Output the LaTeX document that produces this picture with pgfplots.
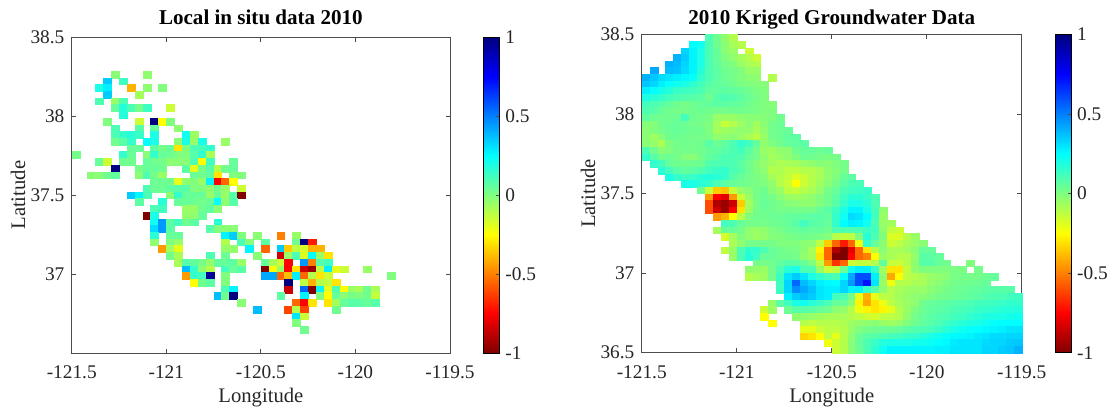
\documentclass[border=0pt]{standalone}
\usepackage{pgfplots}
\pgfplotsset{compat=1.18}
\usepackage{fontspec}
\setmainfont{Liberation Serif}
\pgfplotsset{
  colormap={rjet}{rgb(0cm)=(.5,0,0); rgb(1cm)=(1,0,0); rgb(3cm)=(1,1,0); rgb(5cm)=(0,1,1); rgb(7cm)=(0,0,1); rgb(8cm)=(0,0,.5)},
  gridmap/.style={
    scale only axis, axis on top, clip=true,
    xmin=-121.5, xmax=-119.5, ymin=36.5, ymax=38.5,
    xtick={-121.5,-121,-120.5,-120,-119.5},
    xticklabels={-121.5,-121,-120.5,-120,-119.5},
    ytick={37,37.5,38,38.5},
    yticklabels={37,37.5,38,38.5},
    tick align=inside, tick pos=both, major tick length=3.2pt,
    tick style={color=black!70,line width=.6pt},
    axis line style={color=black!70,line width=.7pt},
    tick label style={font=\fontsize{14.5}{16}\selectfont, text=black!85},
    x tick label style={yshift=-6pt},
    y tick label style={xshift=-2pt},
    label style={font=\fontsize{15.5}{18}\selectfont, text=black!85},
    xlabel={Longitude}, ylabel={Latitude},
    xlabel style={yshift=0pt},
    ylabel style={yshift=-3pt},
    title style={font=\fontsize{15.8}{18}\selectfont\bfseries},
    point meta min=-1, point meta max=1,
    colorbar,
    colorbar style={
      at={(parent axis.north east)}, anchor=north west, xshift=16.5pt,
      width=12pt, height=\pgfkeysvalueof{/pgfplots/parent axis height},
      ytick={-1,-0.5,0,0.5,1}, yticklabels={-1,-0.5,0,0.5,1},
      yticklabel pos=right, ytick pos=right, tick align=inside, major tick length=2.5pt,
      y tick label style={xshift=1pt},
      xlabel={}, ylabel={}, title={}
    }
  },
  cell/.style={
    scatter, only marks, mark=square*, mark size=2.97pt, point meta=explicit,
    scatter/use mapped color={draw=mapped color,fill=mapped color},
    mark options={yscale=\yscl, line width=.05pt},
    forget plot
  }
}
\newcommand{\R}[3]{\addplot[cell] table[row sep=\\, header=false,
  x expr={-121.5+(\coordindex+#2+0.5)/24}, y expr={38.5-(#1+0.5)/\ystep}, meta index=0] {#3};}
\begin{document}
\begin{tikzpicture}
\path[use as bounding box] (0,0) rectangle (831.75pt,305.25pt);
\def\ystep{23.5}\def\yscl{.85}
\begin{axis}[gridmap, at={(53.8pt,40.5pt)}, anchor=south west, width=283.7pt, height=236.8pt,
  title={Local in situ data 2010}, title style={yshift=0pt}]
\R{5}{5}{-.02\\}\R{5}{9}{-.03\\}
\R{6}{4}{.35\\}\R{6}{6}{.13\\}
\R{7}{3}{.2\\.28\\}\R{7}{7}{-.4\\}\R{7}{9}{-.03\\}\R{7}{11}{0\\}
\R{8}{4}{.35\\}\R{8}{8}{-.07\\}
\R{9}{3}{.1\\}\R{9}{5}{-.05\\.1\\}
\R{10}{5}{.05\\.18\\.1\\.02\\.13\\}\R{10}{12}{-.15\\}
\R{11}{6}{.18\\}
\R{12}{4}{0\\}\R{12}{8}{-.15\\}\R{12}{10}{1\\-.25\\0\\}
\R{13}{5}{.1\\}\R{13}{8}{.08\\}\R{13}{10}{.06\\}\R{13}{13}{-.03\\}
\R{14}{5}{.1\\.15\\.17\\.14\\}\R{14}{10}{.2\\}\R{14}{14}{.22\\-.06\\}
\R{15}{5}{.03\\.07\\.15\\}\R{15}{9}{.25\\.2\\}\R{15}{13}{-.02\\.2\\-.05\\.2\\}\R{15}{19}{-.05\\}
\R{16}{7}{.05\\.05\\}\R{16}{10}{.07\\.02\\.05\\-.3\\0\\.1\\.12\\.15\\}
\R{17}{0}{.02\\}\R{17}{6}{.15\\.05\\}\R{17}{9}{-.02\\.15\\.05\\.04\\0\\0\\.08\\.15\\-.08\\}
\R{18}{3}{.05\\-.15\\}\R{18}{6}{.03\\.03\\}\R{18}{9}{.05\\.03\\.02\\-.02\\-.02\\-.02\\.1\\-.25\\.12\\}\R{18}{20}{.05\\}
\R{19}{5}{1\\}\R{19}{8}{.02\\.05\\.05\\.03\\}\R{19}{14}{.07\\-.2\\.02\\.08\\-.1\\.03\\.05\\}
\R{20}{2}{-.02\\-.02\\.03\\.06\\}\R{20}{8}{-.02\\.1\\.02\\-.05\\}\R{20}{15}{.05\\.03\\.06\\-.3\\}\R{20}{20}{0\\0\\}
\R{21}{10}{.04\\.04\\.03\\-.2\\-.03\\0\\-.05\\.27\\-.75\\-.55\\-.25\\}
\R{22}{9}{.1\\.04\\.04\\.06\\.08\\.08\\0\\0\\-.03\\.03\\-.05\\}\R{22}{21}{-.15\\}
\R{23}{7}{.35\\.27\\.1\\}\R{23}{12}{-.02\\.15\\.05\\.05\\.05\\-.05\\.05\\-.05\\.08\\-1\\}
\R{24}{8}{.07\\}\R{24}{11}{.17\\}\R{24}{13}{.05\\.05\\.04\\.02\\.05\\.25\\-.03\\.08\\}
\R{25}{10}{.1\\.12\\}\R{25}{14}{-.05\\-.05\\.03\\.06\\-.02\\}
\R{26}{9}{-1\\.2\\}\R{26}{14}{-.04\\-.03\\.05\\}
\R{27}{10}{.22\\.45\\.07\\.12\\.03\\.07\\}\R{27}{18}{.17\\}
\R{28}{10}{.32\\.45\\.07\\}\R{28}{17}{.08\\0\\-.02\\-.02\\}
\R{29}{10}{.17\\}\R{29}{12}{.05\\.05\\}\R{29}{19}{.27\\.35\\0\\}\R{29}{23}{-.02\\}\R{29}{26}{-.5\\}\R{29}{28}{-.05\\}
\R{30}{10}{-.03\\}\R{30}{12}{0\\-.05\\}\R{30}{19}{-.1\\}\R{30}{21}{.1\\-.01\\}\R{30}{24}{.07\\}\R{30}{28}{.03\\1\\-.7\\}
\R{31}{11}{-.45\\-.07\\-.2\\}\R{31}{19}{-.04\\-.04\\}\R{31}{22}{.27\\}\R{31}{24}{-.55\\}\R{31}{26}{.35\\-.35\\-.12\\-.17\\-.4\\-.4\\}
\R{32}{12}{.02\\-.08\\}\R{32}{17}{.1\\}\R{32}{19}{.04\\}\R{32}{23}{-.02\\}\R{32}{26}{-.85\\-.05\\.1\\-.18\\.25\\-.05\\-.3\\}
\R{33}{13}{-.08\\.08\\.06\\.02\\-.04\\.06\\.05\\.07\\-.05\\}\R{33}{24}{.05\\-.08\\-.15\\-.75\\}\R{33}{29}{.45\\-.5\\.08\\.12\\}
\R{34}{14}{.38\\.15\\-.03\\-.1\\}\R{34}{19}{.12\\.05\\.08\\}\R{34}{24}{-1\\-.25\\-.05\\-.75\\-.3\\-.85\\-.95\\-.12\\.28\\-.2\\-.15\\}\R{34}{37}{-.05\\}
\R{35}{14}{-.45\\.15\\.12\\.95\\}\R{35}{19}{0\\}\R{35}{24}{.42\\.42\\-.55\\-.38\\.28\\-.55\\-.1\\-.3\\-.15\\}\R{35}{40}{0\\}
\R{36}{15}{-.25\\.03\\.07\\}\R{36}{19}{0\\}\R{36}{27}{1\\}\R{36}{29}{-.12\\-.4\\-.1\\-.13\\-.3\\}
\R{37}{19}{.1\\.27\\}\R{37}{27}{-.85\\}\R{37}{29}{.55\\-1\\.27\\-.2\\.1\\-.25\\-.05\\-.08\\.03\\-.08\\}
\R{38}{18}{.38\\.03\\1\\}\R{38}{26}{.07\\}\R{38}{29}{.27\\}\R{38}{31}{0\\-.25\\.05\\-.02\\.02\\0\\.03\\-.13\\}
\R{39}{21}{-.02\\}\R{39}{28}{-.55\\-.75\\-.3\\}\R{39}{32}{-.3\\-.07\\.05\\.08\\.08\\.05\\.08\\}
\R{40}{23}{.38\\}\R{40}{27}{-.62\\-.1\\-.62\\}\R{40}{33}{.03\\}
\R{41}{28}{.3\\-.15\\}
\R{42}{28}{0\\}
\R{43}{29}{.03\\}
\end{axis}
\def\ystep{24}\def\yscl{.835}
\begin{axis}[gridmap, at={(481.3pt,40.7pt)}, anchor=south west, width=285pt, height=238.8pt,
  title={2010 Kriged Groundwater Data}, title style={yshift=-6pt}, ytick={36.5,37,37.5,38,38.5}, yticklabels={36.5,37,37.5,38,38.5}]
\R{0}{8}{.1\\.03\\-.03\\-.1\\}
\R{1}{6}{.25\\.22\\.1\\.03\\-.02\\-.08\\-.1\\}
\R{2}{5}{.33\\.27\\.2\\.1\\.05\\-.02\\-.05\\}\R{2}{13}{-.15\\}
\R{3}{4}{.4\\.35\\.27\\.2\\.1\\.05\\0\\-.03\\-.07\\-.1\\-.15\\}
\R{4}{3}{.4\\.38\\.33\\.27\\.2\\.1\\.06\\.02\\0\\-.05\\-.08\\-.1\\}
\R{5}{1}{.42\\}\R{5}{3}{.38\\.37\\.32\\.27\\.18\\.1\\.07\\.03\\.02\\0\\-.05\\-.05\\}
\R{6}{0}{.4\\.36\\.32\\.3\\.28\\.26\\.24\\.15\\.1\\.07\\.04\\.02\\0\\-.02\\-.03\\}\R{6}{16}{-.1\\}
\R{7}{0}{.36\\.33\\.28\\.24\\.22\\.2\\.16\\.12\\.08\\.06\\.05\\.03\\.01\\0\\-.01\\-.01\\}
\R{8}{0}{.28\\.25\\.21\\.18\\.14\\.13\\.12\\.1\\.06\\.06\\.07\\.06\\.05\\.03\\.01\\0\\}
\R{9}{0}{.2\\.17\\.15\\.12\\.1\\.09\\.08\\.07\\.03\\.08\\.1\\.09\\.07\\.04\\.02\\0\\}
\R{10}{0}{.12\\.1\\.08\\.06\\.03\\.02\\.03\\.05\\.06\\.07\\.07\\.06\\.05\\.03\\.01\\0\\-.01\\}
\R{11}{0}{.1\\.08\\.05\\.03\\.02\\.02\\.03\\.04\\.03\\.02\\.02\\.03\\.03\\.02\\.01\\0\\0\\}
\R{12}{0}{.06\\.04\\.03\\.03\\.04\\.12\\.03\\.02\\.01\\-.05\\-.05\\-.05\\-.03\\-.02\\-.02\\-.01\\0\\.03\\}
\R{13}{0}{-.01\\-.01\\.03\\.04\\.05\\.04\\.02\\.02\\0\\-.07\\-.14\\-.1\\-.06\\-.02\\-.07\\-.02\\.02\\.04\\}
\R{14}{0}{-.02\\0\\.02\\.04\\.05\\.04\\.03\\.03\\0\\-.07\\-.06\\-.05\\-.03\\-.04\\-.08\\-.03\\.02\\.04\\.05\\}
\R{15}{0}{-.02\\-.06\\-.02\\.03\\.04\\.03\\.02\\.02\\.01\\-.03\\-.03\\-.02\\-.05\\-.08\\-.12\\-.05\\.02\\.04\\.06\\.07\\}
\R{16}{0}{-.02\\-.04\\-.09\\0\\.02\\.03\\.02\\.03\\.08\\.04\\.06\\.1\\.15\\.12\\.05\\-.03\\0\\.03\\.05\\.06\\.07\\}
\R{17}{0}{.1\\.03\\-.02\\0\\.02\\.02\\.02\\.03\\.05\\.06\\.08\\.1\\.12\\.07\\.02\\-.05\\-.06\\-.03\\-.03\\.03\\.05\\.05\\.04\\.05\\}
\R{18}{0}{.15\\.08\\.03\\.04\\.02\\-.01\\-.02\\.02\\.06\\.08\\.1\\.1\\.09\\.05\\.02\\-.03\\-.07\\-.05\\-.03\\0\\.04\\.03\\.02\\.01\\.02\\}
\R{19}{1}{.15\\.12\\.05\\.03\\.03\\.03\\.04\\.09\\.1\\.1\\.1\\.07\\.03\\-.01\\-.04\\-.07\\-.09\\-.08\\-.07\\-.05\\-.03\\-.01\\-.02\\0\\.02\\}
\R{20}{2}{.17\\.12\\.08\\.06\\.07\\.09\\.12\\.14\\.15\\.1\\.08\\.03\\0\\-.03\\-.1\\-.09\\-.12\\-.12\\-.1\\-.1\\-.08\\-.03\\-.01\\.02\\}
\R{21}{3}{.2\\.15\\.13\\.14\\.17\\.18\\.17\\.15\\.08\\.05\\.02\\.01\\-.01\\-.07\\-.1\\-.13\\-.18\\-.15\\-.1\\-.08\\-.03\\0\\.05\\.07\\}
\R{22}{5}{.2\\.2\\.17\\.15\\.1\\.07\\.05\\.03\\.02\\.01\\0\\-.03\\-.1\\-.14\\-.25\\-.15\\-.1\\-.06\\-.02\\.02\\.07\\.1\\.11\\}
\R{23}{7}{.03\\-.14\\-.35\\-.37\\-.14\\-.05\\-.02\\.02\\.03\\-.02\\-.05\\-.12\\-.13\\-.1\\-.08\\-.04\\.02\\.05\\.1\\.12\\.13\\.14\\}
\R{24}{8}{-.45\\-.75\\-.8\\-.45\\-.15\\-.05\\.02\\.04\\.02\\-.02\\-.05\\-.06\\-.05\\-.03\\0\\.03\\.07\\.13\\.17\\.17\\.14\\.1\\}
\R{25}{8}{-.6\\-.9\\-.95\\-.85\\-.35\\-.07\\.01\\.05\\.03\\.01\\-.01\\-.02\\-.03\\-.03\\0\\.03\\.08\\.15\\.2\\.2\\.17\\.1\\}
\R{26}{8}{-.6\\-.85\\-.95\\-.75\\-.3\\-.06\\.02\\.04\\.03\\.02\\.02\\.02\\.02\\.02\\.05\\.08\\.13\\.2\\.27\\.27\\.2\\.12\\-.03\\}
\R{27}{9}{-.45\\-.4\\-.25\\-.12\\0\\.03\\.03\\.04\\.04\\.05\\.06\\.06\\.07\\.07\\.06\\.15\\.22\\.32\\.3\\.25\\.12\\-.05\\}
\R{28}{10}{.12\\.1\\.05\\.02\\.02\\.02\\.03\\.04\\.05\\.08\\.12\\.08\\.07\\.05\\.15\\.25\\.28\\.27\\.22\\.1\\-.05\\-.07\\}
\R{29}{9}{-.07\\.05\\.05\\.02\\-.03\\-.05\\-.03\\0\\.02\\.04\\.05\\.06\\.05\\.05\\.03\\.1\\.1\\.1\\.1\\.13\\.12\\-.03\\-.12\\-.15\\}
\R{30}{10}{-.17\\-.07\\0\\-.03\\-.06\\-.04\\-.01\\0\\.01\\.02\\.03\\.02\\.01\\-.01\\-.1\\-.13\\-.12\\0\\.17\\.1\\0\\-.18\\-.18\\-.1\\-.05\\}
\R{31}{11}{-.08\\-.03\\.02\\.02\\.02\\.02\\0\\0\\0\\-.02\\-.03\\-.12\\-.35\\-.55\\-.7\\-.55\\-.22\\.15\\.05\\-.02\\-.15\\-.12\\-.08\\-.05\\-.02\\}
\R{32}{10}{-.12\\-.05\\.1\\.15\\.15\\.1\\.05\\.03\\.02\\.01\\-.02\\-.08\\-.27\\-.55\\-.9\\-1\\-.8\\-.55\\-.3\\-.1\\-.02\\-.08\\-.08\\-.06\\-.02\\.05\\.05\\}
\R{33}{11}{-.05\\.1\\.18\\.13\\.05\\.05\\.03\\.03\\.02\\-.03\\-.07\\-.3\\-.55\\-1\\-1\\-.75\\-.55\\-.5\\-.25\\-.05\\-.08\\-.1\\-.1\\-.04\\.08\\.07\\.05\\}
\R{34}{14}{.02\\.02\\.03\\.06\\.08\\.08\\.05\\0\\-.12\\-.45\\-.65\\-.55\\-.15\\-.13\\-.13\\-.1\\.06\\-.13\\-.15\\-.1\\-.03\\.08\\.08\\.05\\.03\\}\R{34}{41}{0\\}
\R{35}{13}{-.03\\-.04\\-.05\\.02\\.1\\.17\\.2\\.1\\.1\\-.05\\-.15\\-.12\\.05\\.22\\.28\\.28\\.15\\-.07\\-.3\\-.3\\-.13\\-.03\\0\\0\\0\\0\\.01\\.01\\}\R{35}{42}{.02\\}
\R{36}{13}{-.1\\-.08\\-.06\\.02\\.13\\.3\\.35\\.3\\.2\\.15\\.12\\.1\\.25\\.42\\.6\\.6\\.28\\-.03\\-.42\\-.25\\-.12\\-.1\\-.08\\-.05\\-.03\\-.02\\.01\\.02\\.02\\.02\\.04\\.05\\}
\R{37}{17}{.13\\.33\\.55\\.38\\.33\\.28\\.26\\.25\\.33\\.45\\.6\\.72\\.3\\-.05\\-.22\\-.1\\-.1\\-.08\\-.08\\-.04\\-.02\\0\\.02\\.03\\.03\\.04\\.05\\}
\R{38}{17}{.13\\.33\\.47\\.42\\.37\\.3\\.28\\.28\\.33\\.27\\.28\\.15\\.08\\-.03\\-.1\\-.08\\-.06\\-.05\\-.05\\-.02\\0\\.02\\.03\\.04\\.05\\.06\\.07\\.08\\.08\\.08\\}
\R{39}{18}{.28\\.35\\.38\\.35\\.3\\.28\\.12\\.1\\.02\\-.2\\-.4\\-.2\\-.12\\-.1\\-.07\\-.05\\-.03\\-.02\\0\\.02\\.03\\.04\\.05\\.06\\.07\\.09\\.1\\.1\\.12\\.13\\}
\R{40}{16}{-.04\\.07\\.13\\.2\\.22\\.17\\.14\\.1\\.05\\.05\\-.02\\-.27\\-.42\\-.3\\-.22\\-.12\\-.08\\-.05\\-.03\\.03\\.05\\.06\\.07\\.08\\.09\\.1\\.12\\.12\\.13\\.14\\.15\\.15\\}
\R{41}{15}{-.15\\-.06\\}\R{41}{18}{.04\\.08\\.08\\.07\\.05\\.03\\-.02\\-.04\\-.1\\-.22\\-.27\\-.3\\-.27\\-.2\\-.1\\-.05\\0\\.04\\.06\\.07\\.08\\.1\\.11\\.12\\.14\\.15\\.16\\.17\\.18\\.18\\}
\R{42}{15}{-.25\\}\R{42}{19}{-.03\\-.03\\-.05\\-.06\\-.08\\-.08\\-.08\\-.1\\-.12\\-.15\\-.17\\-.13\\-.12\\-.1\\-.03\\.02\\.05\\.07\\.09\\.1\\.12\\.13\\.15\\.17\\.19\\.2\\.2\\.21\\.22\\}
\R{43}{16}{-.25\\}\R{43}{20}{-.1\\-.12\\-.1\\-.1\\-.1\\-.09\\-.06\\-.04\\-.03\\-.02\\-.05\\-.06\\-.04\\0\\.03\\.06\\.08\\.1\\.13\\.15\\.17\\.19\\.2\\.22\\.24\\.25\\.25\\.25\\}
\R{44}{20}{-.2\\-.2\\-.15\\-.12\\-.12\\-.1\\-.05\\0\\.02\\.03\\.04\\.04\\.05\\.07\\.09\\.1\\.11\\.14\\.17\\.2\\.22\\.24\\.25\\.26\\.27\\.28\\.3\\.3\\}
\R{45}{20}{-.33\\-.3\\-.25\\-.12\\-.2\\-.1\\-.03\\.04\\.07\\.08\\.1\\.11\\.12\\.14\\.15\\.17\\.2\\.22\\.24\\.26\\.26\\.27\\.29\\.3\\.32\\.32\\.33\\.33\\}
\R{46}{23}{-.22\\-.15\\-.1\\-.02\\.05\\.1\\.14\\.18\\.2\\.2\\.2\\.21\\.22\\.23\\.25\\.26\\.29\\.3\\.3\\.3\\.32\\.33\\.33\\.35\\.36\\}
\R{47}{24}{-.15\\-.1\\-.02\\.04\\.1\\.16\\.22\\.27\\.27\\.27\\.27\\.27\\.27\\.28\\.28\\.3\\.3\\.3\\.3\\.33\\.33\\.35\\.36\\.4\\}
\end{axis}
\end{tikzpicture}
\end{document}
